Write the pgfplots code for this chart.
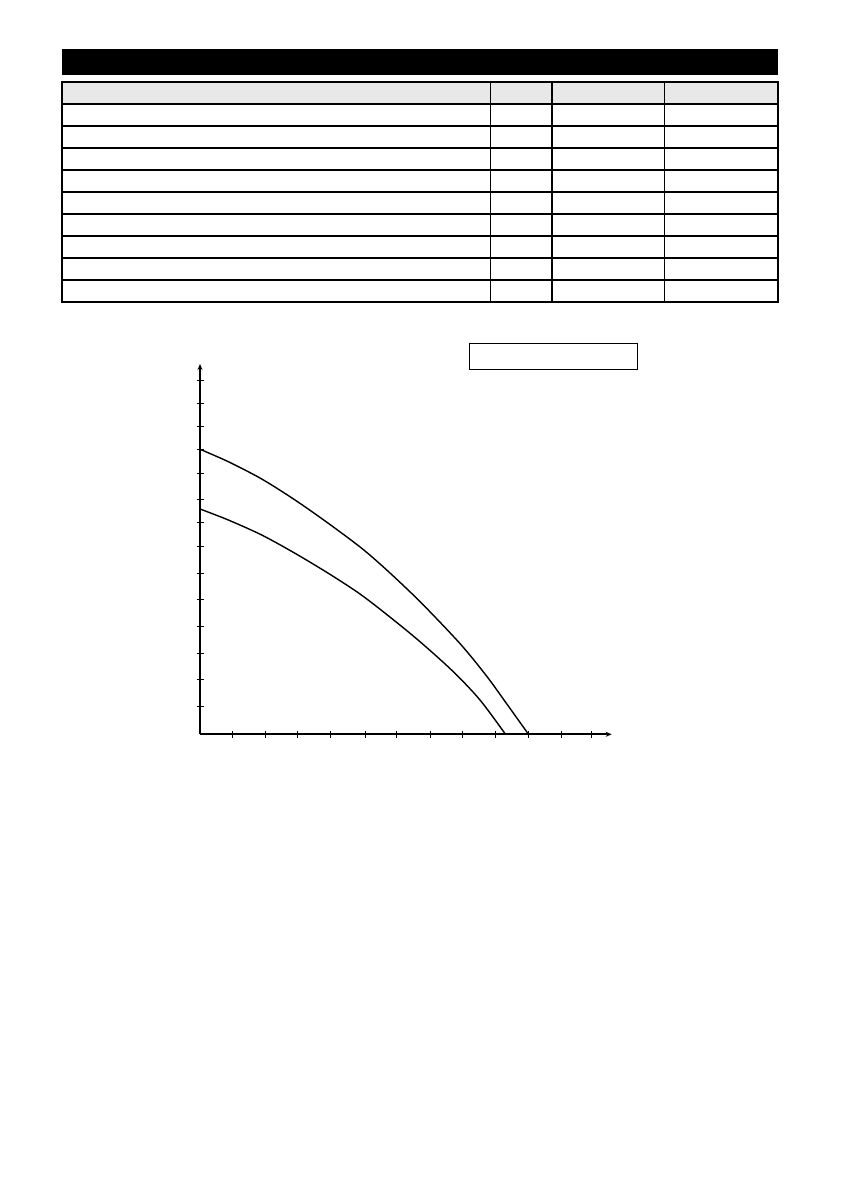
\documentclass[border=0pt]{standalone}
\usepackage{pgfplots}
\pgfplotsset{compat=1.18}
\usetikzlibrary{arrows.meta}

\begin{document}
\begin{tikzpicture}[x=1pt,y=1pt]
  % page, 1 unit = 1 pixel of the reference, y counted from the bottom
  \fill[white] (0,0) rectangle (840,1190);
  \useasboundingbox (0,0) rectangle (840,1190);

  % title bar
  \fill[black] (62,1141) rectangle (778,1115);

  % table: header row and nine empty rows
  \fill[black!9] (62,1108) rectangle (778,1086);
  \foreach \y in {1086,1064,1042,1020,998,976,954,932,910}
    \draw[line width=1.1pt] (62,\y) -- (778,\y);
  \foreach \x in {490.5,552,664.5}
    \draw[line width=1.1pt] (\x,1108) -- (\x,888);
  \draw[line width=1.1pt] (62,1108) rectangle (778,888);

  % empty legend box above the chart
  \draw[line width=0.9pt] (469.3,846.7) rectangle (637.3,820.5);
  \draw[line width=1.8pt] (469.3,820.5) -- (637.3,820.5);

  \begin{axis}[
      at={(200,455.7)}, anchor=origin,
      x=1pt, y=1pt,
      xmin=0, xmax=411.7,
      ymin=0, ymax=370.3,
      axis lines=left,
      x axis line style={line width=1.6pt, -{Stealth[length=6pt,width=5pt]}},
      y axis line style={line width=2.2pt, -{Stealth[length=6pt,width=5pt]}},
      xtick={32.7,65.3,97.7,130.7,165,196.7,230,262,295.3,328.7,361,391},
      ytick={27.6,54.3,80.3,107.6,134.3,161,187.6,211.3,234.3,261,284.3,307.7,331,353.6},
      xticklabels={}, yticklabels={},
      tick align=center,
      major tick length=7pt,
      tick style={line width=1pt, black},
      clip=false,
    ]
    % upper curve
    \addplot[smooth, line width=1.4pt, black] coordinates {
      (0,285) (28.3,272.6) (61.7,255.3) (95,234.3) (128.3,211) (161.7,186)
      (186.7,164.3) (220,132.7) (260,90.7) (286.7,58.1) (306.7,30.5) (328.5,0)
    };
    % lower curve
    \addplot[smooth, line width=1.4pt, black] coordinates {
      (0,225.3) (28.3,214.3) (61.7,199.3) (95,181) (128.3,161) (160,140.3)
      (190,117.2) (220,92.6) (253.3,62.6) (280,34.3) (305.5,0)
    };
  \end{axis}
\end{tikzpicture}
\end{document}
